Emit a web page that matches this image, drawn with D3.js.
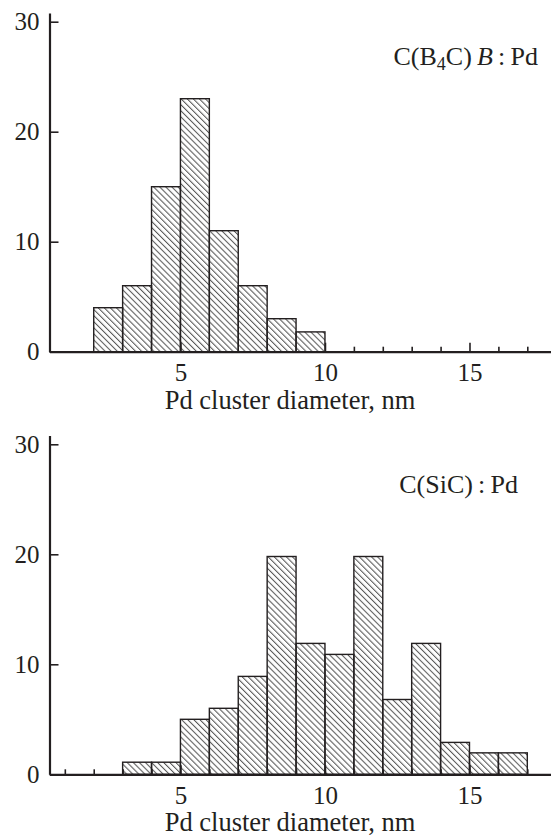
<!DOCTYPE html>
<html>
<head>
<meta charset="utf-8">
<script src="https://cdn.jsdelivr.net/npm/d3@7"></script>
<style>
  body { margin: 0; background: #fff; }
  svg text { font-family: "Liberation Serif", "Times New Roman", serif; fill: #231f20; }
</style>
</head>
<body>
<div id="chart"></div>
<script>
// data: bin start (nm), count
const binsB4C = [2, 3, 4, 5, 6, 7, 8, 9];
const countsB4C = [4, 6, 15, 23, 11, 6, 3, 1.8];

const binsSiC = [3, 4, 5, 6, 7, 8, 9, 10, 11, 12, 13, 14, 15, 16];
const countsSiC = [1.1, 1.1, 5, 6, 8.9, 19.8, 11.9, 10.9, 19.8, 6.8, 11.9, 2.9, 1.95, 1.95];

const yTicks = [0, 10, 20, 30];
const xMajor = [5, 10, 15];
const minorTop = [11, 12, 13, 14, 16, 17];
const minorBottom = [1, 2, 3, 4, 6, 7, 8, 9, 11, 12, 13, 14, 16, 17];

const width = 551;
const height = 838;
const ink = "#231f20";

const svg = d3.select("#chart")
    .append("svg")
    .attr("width", width)
    .attr("height", height);

// hatch pattern "\\\\"
svg.append("defs")
    .append("pattern")
    .attr("id", "hatch")
    .attr("patternUnits", "userSpaceOnUse")
    .attr("width", 4.3)
    .attr("height", 4.3)
    .attr("patternTransform", "rotate(45)")
    .append("line")
    .attr("x1", 0).attr("y1", 2)
    .attr("x2", 4.3).attr("y2", 2)
    .attr("stroke", "#3a3a3a")
    .attr("stroke-width", 0.9);

const x = d3.scaleLinear()
    .domain([0.47, 17.82])
    .range([49.5, 551]);

function drawPanel(y0, bins, counts, minor, labelFn) {
    const y = d3.scaleLinear()
        .domain([0, 30.8])
        .range([y0, y0 - 30.8 * 11]);

    const g = svg.append("g");

    // bars
    g.selectAll("rect")
        .data(bins.map((b, i) => ({ bin: b, n: counts[i] })))
        .join("rect")
        .attr("x", d => x(d.bin))
        .attr("y", d => y(d.n))
        .attr("width", d => x(d.bin + 1) - x(d.bin))
        .attr("height", d => y(0) - y(d.n))
        .attr("fill", "url(#hatch)")
        .attr("stroke", ink)
        .attr("stroke-width", 1.4);

    // y axis
    const ejeY = g.append("g")
        .attr("transform", `translate(${x.range()[0]},0)`)
        .call(d3.axisLeft(y).tickValues(yTicks).tickSize(-9).tickSizeOuter(0).tickPadding(10));

    // x axis minor ticks
    const ejeXmin = g.append("g")
        .attr("transform", `translate(0,${y0})`)
        .call(d3.axisBottom(x).tickValues(minor).tickSize(-5).tickSizeOuter(0).tickFormat(""));

    // x axis major
    const ejeX = g.append("g")
        .attr("transform", `translate(0,${y0})`)
        .call(d3.axisBottom(x).tickValues(xMajor).tickSize(-9).tickSizeOuter(0).tickPadding(12));

    [ejeY, ejeXmin, ejeX].forEach(a => {
        a.selectAll("path").attr("stroke", ink).attr("stroke-width", 2.2);
        a.selectAll("line").attr("stroke", ink).attr("stroke-width", 1.6);
        a.selectAll("text").attr("font-size", 25).style("font-family", null);
    });
    ejeXmin.select("path").remove();

    g.append("text")
        .attr("x", 290)
        .attr("y", y0 + 57)
        .attr("text-anchor", "middle")
        .attr("font-size", 26.5)
        .text("Pd cluster diameter, nm");

    labelFn(g, y0);
}

drawPanel(351.7, binsB4C, countsB4C, minorTop, (g, y0) => {
    const t = g.append("text")
        .attr("x", 538)
        .attr("y", 65)
        .attr("text-anchor", "end")
        .attr("font-size", 26);
    t.append("tspan").text("C(B");
    t.append("tspan").attr("font-size", 18).attr("dy", 5).text("4");
    t.append("tspan").attr("dy", -5).text("C)\u2009");
    t.append("tspan").attr("font-style", "italic").text("B");
    t.append("tspan").text("\u2009:\u2009Pd");
});

drawPanel(774.3, binsSiC, countsSiC, minorBottom, (g, y0) => {
    g.append("text")
        .attr("x", 518)
        .attr("y", 493)
        .attr("text-anchor", "end")
        .attr("font-size", 26)
        .text("C(SiC)\u2009:\u2009Pd");
});
</script>
</body>
</html>
